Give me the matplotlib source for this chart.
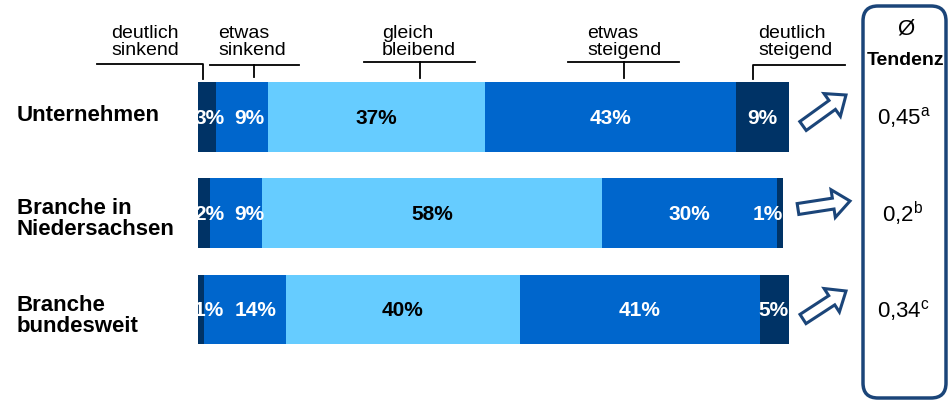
import matplotlib
matplotlib.use("Agg")
import matplotlib.pyplot as plt
import matplotlib.patches as mpatches

plt.rcParams["font.family"] = ["Liberation Sans", "DejaVu Sans"]
plt.rcParams["mathtext.fontset"] = "custom"
plt.rcParams["mathtext.rm"] = "Liberation Sans"

# Survey answers per row (percent)
rows = ["Unternehmen", "Branche in\nNiedersachsen", "Branche\nbundesweit"]
categories = ["deutlich\nsinkend", "etwas\nsinkend", "gleich\nbleibend", "etwas\nsteigend", "deutlich\nsteigend"]
deutlich_sinkend = [3, 2, 1]
etwas_sinkend = [9, 9, 14]
gleich_bleibend = [37, 58, 40]
etwas_steigend = [43, 30, 41]
deutlich_steigend = [9, 1, 5]
tendenz = ["0,45", "0,2", "0,34"]
tendenz_note = ["a", "b", "c"]

series = [deutlich_sinkend, etwas_sinkend, gleich_bleibend, etwas_steigend, deutlich_steigend]
colors = ["#003366", "#0066CC", "#66CCFF", "#0066CC", "#003366"]
text_colors = ["white", "white", "black", "white", "white"]
navy = "#1b4579"

W, H = 948, 402
fig = plt.figure(figsize=(W / 100, H / 100), dpi=100)

# Overlay in pixel units for headers, arrows and the Tendenz box
ov = fig.add_axes([0, 0, 1, 1])
ov.set_xlim(0, W)
ov.set_ylim(H, 0)
ov.axis("off")

# Bar axes: 5.85 px per percent, rows 96.25 px apart
px_per = 5.85
row_gap = 96.25
x0, y_first = 198, 118
ax = fig.add_axes([x0 / W, 1 - (y_first + 2.5 * row_gap) / H,
                   101 * px_per / W, 3 * row_gap / H])
ax.set_xlim(0, 101)
ax.set_ylim(2.5, -0.5)
ax.axis("off")

bar_h = 70 / row_gap
ypos = list(range(len(rows)))
lefts = [0.0] * len(rows)
for k, vals in enumerate(series):
    ax.barh(ypos, vals, left=lefts, height=bar_h, color=colors[k], edgecolor="none")
    for i, v in enumerate(vals):
        total = sum(s[i] for s in series)
        ha, x = "center", lefts[i] + v / 2
        if k == 0 and v < 5:
            ha, x = "right", 4.5
        elif k == 1 and series[0][i] < 5:
            ha, x = "left", 6.2
        elif k == len(series) - 1 and v < 6:
            ha, x = "right", total
        t = ax.text(x, i, f"{v}%", ha=ha, va="center", fontsize=15,
                    fontweight="bold", color=text_colors[k])
        clip = mpatches.Rectangle((0, i - bar_h / 2), total, bar_h,
                                  transform=ax.transData)
        t.set_clip_path(clip)
    lefts = [l + v for l, v in zip(lefts, vals)]

# Row labels
ov.text(17, 121, rows[0], fontsize=16, fontweight="bold", va="baseline")
ov.text(17, 235, rows[1], fontsize=16, fontweight="bold", va="baseline", linespacing=1.02)
ov.text(17, 332, rows[2], fontsize=16, fontweight="bold", va="baseline", linespacing=1.02)

# Category headers with bracket lines
head_x = [111, 218, 382, 587, 758]
for lab, hx in zip(categories, head_x):
    ov.text(hx, 55, lab, fontsize=14, va="baseline", ha="left", linespacing=0.98)

lw = 1.3
ov.plot([97, 203, 203], [65, 65, 80], color="black", lw=lw)
ov.plot([210, 299], [65.5, 65.5], color="black", lw=lw)
ov.plot([254, 254], [65.5, 78], color="black", lw=lw)
ov.plot([364, 475], [63, 63], color="black", lw=lw)
ov.plot([420, 420], [63, 79], color="black", lw=lw)
ov.plot([568, 679], [63, 63], color="black", lw=lw)
ov.plot([624, 624], [63, 79], color="black", lw=lw)
ov.plot([845, 753, 753], [66, 66, 80], color="black", lw=lw)

# Tendency arrows
arrows = [((803, 127), (846, 96)), ((798, 210), (850, 202)), ((803, 320), (846, 292))]
for (tx, ty), (hx, hy) in arrows:
    ov.add_patch(mpatches.FancyArrow(tx, ty, hx - tx, hy - ty, width=11,
                                     head_width=28, head_length=17,
                                     length_includes_head=True, fc="white",
                                     ec=navy, lw=2.2))

# Tendenz box
ov.add_patch(mpatches.FancyBboxPatch((863, 7), 83, 392,
                                     boxstyle="round,pad=0,rounding_size=15",
                                     fc="none", ec=navy, lw=2.5))
ov.text(906, 29, "Ø", fontsize=16, ha="center", va="center")
ov.text(906, 65, "Tendenz", fontsize=14, fontweight="bold", ha="center", va="baseline")
val_pos = [(877, 124), (882, 222), (877, 317)]
for (vx, vy), val, note in zip(val_pos, tendenz, tendenz_note):
    ov.text(vx, vy, val + r"$^{\mathrm{" + note + "}}$", fontsize=16,
            ha="left", va="baseline")

fig.savefig("out.png", dpi=100)
